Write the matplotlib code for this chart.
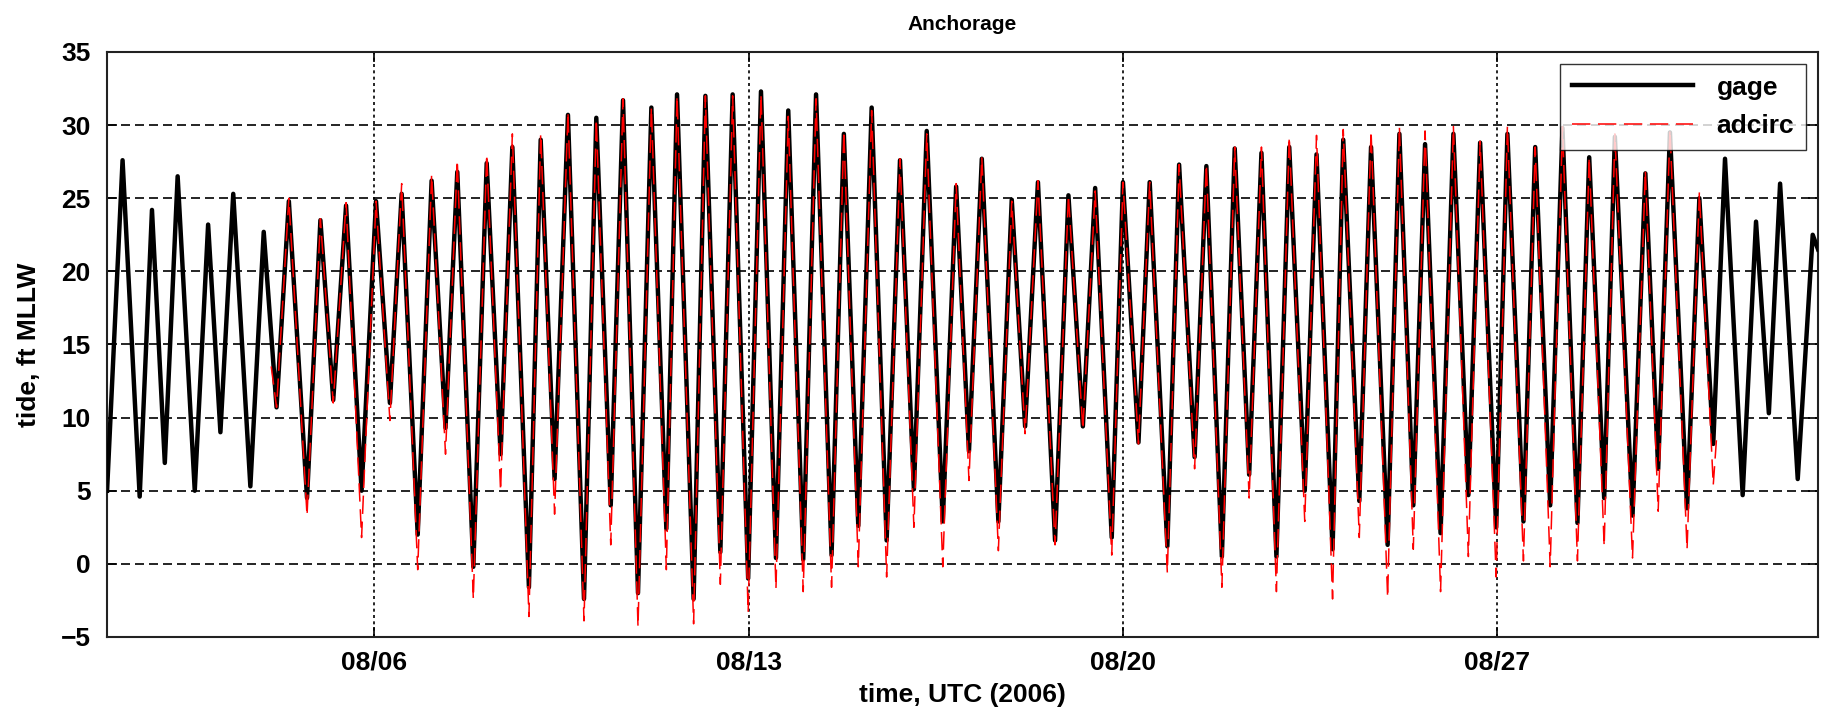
import numpy as np
import matplotlib
matplotlib.use("Agg")
from matplotlib import pyplot as plt

plt.rcParams['font.family'] = ['Liberation Sans', 'DejaVu Sans']
plt.rcParams['font.weight'] = 'bold'

# high / low water, time in days after 2006-08-01 00:00 UTC
gage_days = [0.00, 0.29, 0.61, 0.84, 1.08, 1.32, 1.64, 1.89, 2.12, 2.36, 2.68, 2.93,
             3.17, 3.40, 3.74, 3.99, 4.23, 4.47, 4.76, 5.03, 5.29, 5.51, 5.81, 6.07,
             6.33, 6.55, 6.85, 7.10, 7.36, 7.58, 7.89, 8.11, 8.37, 8.62, 8.92, 9.15,
             9.42, 9.65, 9.93, 10.18, 10.46, 10.66, 10.97, 11.19, 11.47, 11.70, 11.99, 12.23,
             12.51, 12.74, 13.02, 13.26, 13.55, 13.78, 14.05, 14.30, 14.58, 14.83, 15.09, 15.33,
             15.63, 15.88, 16.12, 16.36, 16.67, 16.92, 17.17, 17.41, 17.73, 17.98, 18.25, 18.48,
             18.79, 19.00, 19.29, 19.50, 19.83, 20.05, 20.34, 20.56, 20.85, 21.09, 21.36, 21.59,
             21.87, 22.11, 22.40, 22.62, 22.92, 23.12, 23.42, 23.64, 23.95, 24.17, 24.43, 24.65,
             24.94, 25.18, 25.46, 25.68, 25.98, 26.19, 26.49, 26.71, 26.99, 27.22, 27.50, 27.72,
             28.00, 28.20, 28.53, 28.77, 29.01, 29.23, 29.55, 29.78, 30.04, 30.26, 30.59, 30.84,
             31.08, 31.29, 31.62, 31.90, 32.00]
gage_ft = [5.0, 27.6, 4.6, 24.2, 6.9, 26.5, 5.0, 23.2, 9.0, 25.3, 5.3, 22.7,
           10.7, 24.8, 4.5, 23.5, 11.2, 24.5, 5.0, 24.8, 11.0, 25.3, 2.0, 26.2,
           9.3, 26.8, -0.2, 27.4, 7.5, 28.5, -1.6, 29.0, 5.8, 30.7, -2.4, 30.5,
           4.0, 31.7, -2.0, 31.2, 2.4, 32.1, -2.4, 32.0, 0.8, 32.1, -1.0, 32.3,
           0.4, 31.0, 0.3, 32.1, 0.6, 29.4, 2.6, 31.2, 1.6, 27.6, 5.1, 29.6,
           2.9, 25.8, 7.7, 27.7, 2.9, 24.9, 9.4, 26.1, 1.6, 25.2, 9.4, 25.7,
           1.8, 26.1, 8.3, 26.1, 1.2, 27.3, 7.3, 27.2, 0.5, 28.4, 6.1, 28.1,
           0.5, 28.5, 5.0, 28.0, 1.0, 29.0, 4.3, 28.5, 1.3, 29.4, 4.0, 28.7,
           2.1, 29.4, 4.7, 28.8, 2.5, 29.4, 2.9, 28.5, 4.0, 29.8, 2.8, 27.8,
           4.5, 29.2, 3.3, 26.7, 6.5, 29.5, 3.8, 25.0, 8.2, 27.7, 4.7, 23.4,
           10.3, 26.0, 5.8, 22.5, 21.5]

adcirc_days = [3.07, 3.17, 3.40, 3.74, 3.99, 4.23, 4.47, 4.76, 5.03, 5.29, 5.51, 5.81,
               6.07, 6.33, 6.55, 6.85, 7.10, 7.36, 7.58, 7.89, 8.11, 8.37, 8.62, 8.92,
               9.15, 9.42, 9.65, 9.93, 10.18, 10.46, 10.66, 10.97, 11.19, 11.47, 11.70, 11.99,
               12.23, 12.51, 12.74, 13.02, 13.26, 13.55, 13.78, 14.05, 14.30, 14.58, 14.83, 15.09,
               15.33, 15.63, 15.88, 16.12, 16.36, 16.67, 16.92, 17.17, 17.41, 17.73, 17.98, 18.25,
               18.48, 18.79, 19.00, 19.29, 19.50, 19.83, 20.05, 20.34, 20.56, 20.85, 21.09, 21.36,
               21.59, 21.87, 22.11, 22.40, 22.62, 22.92, 23.12, 23.42, 23.64, 23.95, 24.17, 24.43,
               24.65, 24.94, 25.18, 25.46, 25.68, 25.98, 26.19, 26.49, 26.71, 26.99, 27.22, 27.50,
               27.72, 28.00, 28.20, 28.53, 28.77, 29.01, 29.23, 29.55, 29.78, 30.04, 30.10]
adcirc_ft = [13.5, 10.7, 25.0, 3.3, 23.6, 11.0, 24.7, 1.8, 24.8, 9.8, 26.0, -0.4,
             26.6, 7.5, 27.6, -2.4, 28.0, 5.0, 29.4, -3.6, 29.4, 3.4, 30.9, -3.9,
             30.4, 1.3, 31.8, -4.3, 31.2, -0.4, 32.0, -4.1, 32.0, -1.4, 32.0, -3.3,
             32.1, -1.7, 30.6, -1.9, 31.8, -1.6, 29.6, -0.2, 31.0, -0.9, 27.7, 2.5,
             29.4, -0.2, 26.0, 5.7, 27.8, 0.9, 24.8, 8.9, 26.2, 1.3, 25.2, 9.2,
             25.5, 0.6, 26.1, 8.2, 26.1, -0.6, 27.3, 6.5, 27.3, -1.6, 28.5, 4.5,
             28.5, -1.9, 29.2, 2.9, 29.3, -2.4, 29.7, 1.8, 29.6, -2.3, 29.9, 1.0,
             29.6, -1.9, 29.9, 0.5, 28.9, -0.9, 29.9, 0.2, 28.5, -0.2, 29.9, 0.2,
             27.8, 1.2, 29.4, 0.4, 26.9, 3.6, 29.7, 1.0, 25.4, 5.4, 8.5]

tick_days = [5, 12, 19, 26]
tick_labels = ['08/06', '08/13', '08/20', '08/27']

fig = plt.figure(figsize=(18.27, 7.11), dpi=100)
ax = fig.add_axes([0.0586, 0.1041, 0.9365, 0.8228])

ax.plot(gage_days, gage_ft, color='black', linewidth=3.2, label='gage', zorder=3)
ax.plot(adcirc_days, adcirc_ft, color='red', linewidth=1.1, linestyle=(0, (12, 5)),
        label='adcirc', zorder=4)

ax.set_xlim(0, 32)
ax.set_ylim(-5, 35)
ax.set_yticks(np.arange(-5, 36, 5))
ax.set_xticks(tick_days)
ax.set_xticklabels(tick_labels)

ax.yaxis.grid(True, color='black', linewidth=1.2, linestyle=(0, (5.4, 3)))
ax.xaxis.grid(True, color='black', linewidth=1.2, linestyle=(0, (1.8, 2)))
ax.set_axisbelow(True)

ax.tick_params(axis='x', direction='in', length=7, width=1.2, top=True,
               labelsize=19, pad=10)
ax.tick_params(axis='y', direction='in', length=7, width=1.2, right=True,
               labelsize=19, pad=12)
for lab in ax.get_xticklabels() + ax.get_yticklabels():
    lab.set_fontweight('bold')
for sp in ax.spines.values():
    sp.set_linewidth(1.5)
    sp.set_color('#222222')

ax.set_title('Anchorage', fontsize=15, fontweight='bold', pad=16)
ax.set_xlabel('time, UTC (2006)', fontsize=19, fontweight='bold', labelpad=6)
ax.set_ylabel('tide, ft MLLW', fontsize=19, fontweight='bold', labelpad=14)

leg = ax.legend(loc='upper right', frameon=True, fancybox=False,
                edgecolor='black', handlelength=4.6, borderaxespad=0.45,
                borderpad=0.45, labelspacing=0.55, handletextpad=0.9,
                prop={'weight': 'bold', 'size': 19})
leg.get_frame().set_linewidth(1.0)

fig.savefig('out.png', dpi=100, facecolor='white')
